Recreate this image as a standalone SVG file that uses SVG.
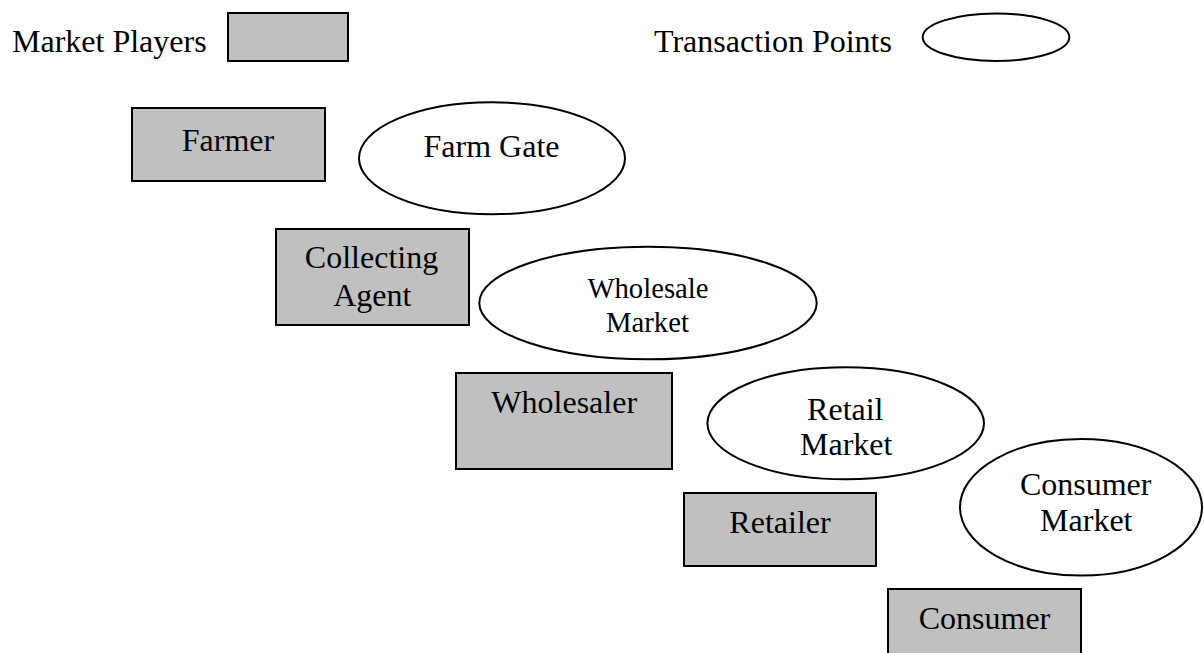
<svg xmlns="http://www.w3.org/2000/svg" width="1204" height="653" viewBox="0 0 1204 653">
  <style>
    .player { fill: #c0c0c0; stroke: #000; stroke-width: 2; }
    .point { fill: #fff; stroke: #000; stroke-width: 2; }
    text { font-family: 'Liberation Serif', 'Times New Roman', Times, serif; font-size: 32px; fill: #000; }
    .c { text-anchor: middle; }
    .sm { font-size: 28.7px; }
  </style>
  <rect width="1204" height="653" fill="#fff"/>

  <!-- legend -->
  <g id="legend-players">
    <text x="12" y="51.7">Market Players</text>
    <rect class="player" x="228" y="13" width="120" height="48"/>
  </g>
  <g id="legend-points">
    <text x="654" y="51.7">Transaction Points</text>
    <ellipse class="point" cx="996" cy="37.2" rx="73.3" ry="23.8"/>
  </g>

  <!-- market players -->
  <g id="farmer">
    <rect class="player" x="132" y="108" width="193" height="73"/>
    <text class="c" x="228" y="150.7">Farmer</text>
  </g>
  <g id="collecting-agent">
    <rect class="player" x="276" y="229" width="193" height="96"/>
    <text class="c" x="371.5" y="268.3">Collecting</text>
    <text class="c" x="372.3" y="305.7">Agent</text>
  </g>
  <g id="wholesaler">
    <rect class="player" x="456" y="373" width="216" height="96"/>
    <text class="c" x="564.2" y="413.3">Wholesaler</text>
  </g>
  <g id="retailer">
    <rect class="player" x="684" y="493" width="192" height="73"/>
    <text class="c" x="780" y="533.3">Retailer</text>
  </g>
  <g id="consumer">
    <rect class="player" x="888" y="589" width="193" height="80"/>
    <text class="c" x="984.5" y="629">Consumer</text>
  </g>

  <!-- transaction points -->
  <g id="farm-gate">
    <ellipse class="point" cx="492" cy="158.3" rx="133" ry="56"/>
    <text class="c" x="491.5" y="157.3">Farm Gate</text>
  </g>
  <g id="wholesale-market">
    <ellipse class="point" cx="648" cy="303" rx="168.7" ry="56.3"/>
    <text class="c sm" x="648" y="298.3">Wholesale</text>
    <text class="c sm" x="647.5" y="331.7">Market</text>
  </g>
  <g id="retail-market">
    <ellipse class="point" cx="845.7" cy="423.3" rx="138.3" ry="56"/>
    <text class="c" x="845.3" y="420">Retail</text>
    <text class="c" x="846.2" y="455">Market</text>
  </g>
  <g id="consumer-market">
    <ellipse class="point" cx="1081" cy="507.3" rx="121" ry="68.3"/>
    <text class="c" x="1085.7" y="494.7">Consumer</text>
    <text class="c" x="1086.3" y="531.3">Market</text>
  </g>

  <!-- no connectors are drawn between the stages -->
  <g id="connectors"/>
</svg>
